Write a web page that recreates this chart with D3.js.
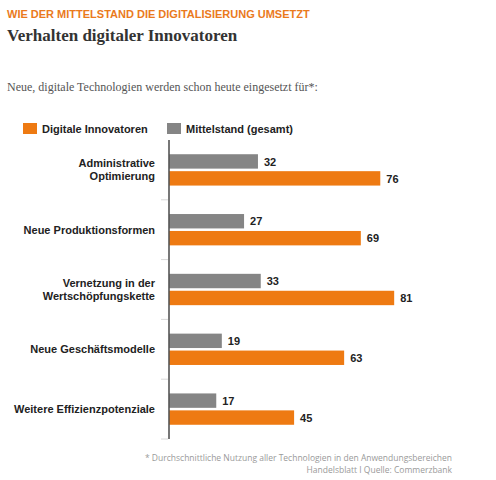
<!DOCTYPE html>
<html lang="de">
<head>
<meta charset="UTF-8">
<title>Verhalten digitaler Innovatoren</title>
<script src="https://cdn.jsdelivr.net/npm/d3@7"></script>
<style>
    html, body {
        margin: 0;
        padding: 0;
        background: #fff;
    }
    .kicker {
        font: bold 11px "Liberation Sans", Arial, sans-serif;
        fill: #ea7a1c;
    }
    .headline {
        font: bold 17px "Liberation Serif", Georgia, serif;
        fill: #333;
    }
    .intro {
        font: 12px "Liberation Serif", Georgia, serif;
        fill: #555;
    }
    .legend text, .cat text, .val {
        font: bold 11px "Liberation Sans", Arial, sans-serif;
        fill: #222;
    }
    .note {
        font: 8.5px "Open Sans", sans-serif;
        fill: #9a9a9a;
    }
</style>
</head>
<body>
<svg id="chart" width="496" height="480"></svg>
<script>
    // data
    var categories = [
        "Administrative Optimierung",
        "Neue Produktionsformen",
        "Vernetzung in der Wertschöpfungskette",
        "Neue Geschäftsmodelle",
        "Weitere Effizienzpotenziale"
    ];
    // line breaks as in the original
    var catLines = [
        ["Administrative", "Optimierung"],
        ["Neue Produktionsformen"],
        ["Vernetzung in der", "Wertschöpfungskette"],
        ["Neue Geschäftsmodelle"],
        ["Weitere Effizienzpotenziale"]
    ];
    var series = ["Mittelstand (gesamt)", "Digitale Innovatoren"];
    var mittelstand = [32, 27, 33, 19, 17];
    var innovatoren = [76, 69, 81, 63, 45];
    var legendOrder = ["Digitale Innovatoren", "Mittelstand (gesamt)"];
    var colors = {"Digitale Innovatoren": "#ee7a12", "Mittelstand (gesamt)": "#858585"};

    var svg = d3.select("#chart");

    // heading
    svg.append("text").attr("class", "kicker").attr("x", 7).attr("y", 18)
        .text("WIE DER MITTELSTAND DIE DIGITALISIERUNG UMSETZT");
    svg.append("text").attr("class", "headline").attr("x", 7).attr("y", 41)
        .text("Verhalten digitaler Innovatoren");
    svg.append("text").attr("class", "intro").attr("x", 7).attr("y", 91)
        .text("Neue, digitale Technologien werden schon heute eingesetzt für*:");

    // legend
    var lg = svg.append("g").attr("class", "legend");
    var legendX = [23, 167];
    legendOrder.forEach(function (s, i) {
        lg.append("rect").attr("x", legendX[i]).attr("y", 123)
            .attr("width", 14).attr("height", 11).attr("fill", colors[s]);
        lg.append("text").attr("x", legendX[i] + 19).attr("y", 133).text(s);
    });

    // scales
    var y = d3.scaleBand().domain(categories).range([140, 439]);
    var ySub = d3.scaleBand().domain(series).range([0, y.bandwidth()])
        .paddingInner(0.15).paddingOuter(0.84);
    var x = d3.scaleLinear().domain([0, 100]).range([169, 447]);

    var rows = categories.map(function (c, i) {
        return {cat: c, lines: catLines[i], vals: [
            {s: series[0], v: mittelstand[i]},
            {s: series[1], v: innovatoren[i]}
        ]};
    });

    // ticks between the groups
    var tickY = categories.map(function (c) { return y(c) + y.bandwidth(); });
    svg.append("g").selectAll("line").data(tickY).enter().append("line")
        .attr("x1", 161).attr("x2", 168)
        .attr("y1", function (d) { return d; }).attr("y2", function (d) { return d; })
        .attr("stroke", "#d8d8d8").attr("stroke-width", 1);

    var g = svg.append("g").selectAll(".row").data(rows).enter().append("g")
        .attr("class", "row")
        .attr("transform", function (d) { return "translate(0," + y(d.cat) + ")"; });

    g.selectAll("rect").data(function (d) { return d.vals; }).enter().append("rect")
        .attr("x", x(0))
        .attr("y", function (d) { return ySub(d.s); })
        .attr("width", function (d) { return x(d.v) - x(0); })
        .attr("height", ySub.bandwidth())
        .attr("fill", function (d) { return colors[d.s]; });

    g.selectAll(".val").data(function (d) { return d.vals; }).enter().append("text")
        .attr("class", "val")
        .attr("x", function (d) { return x(d.v) + 6; })
        .attr("y", function (d) { return ySub(d.s) + ySub.bandwidth() / 2; })
        .attr("dy", "0.38em")
        .text(function (d) { return d.v; });

    // category labels
    var cat = g.append("g").attr("class", "cat");
    cat.each(function (d) {
        var n = d.lines.length;
        var t = d3.select(this).append("text")
            .attr("text-anchor", "end")
            .attr("y", y.bandwidth() / 2);
        d.lines.forEach(function (l, i) {
            t.append("tspan").attr("x", 155)
                .attr("dy", i === 0 ? (0.35 - (n - 1) * 0.6) + "em" : "1.2em")
                .text(l);
        });
    });

    // axis line
    svg.append("line")
        .attr("x1", x(0)).attr("x2", x(0))
        .attr("y1", y.range()[0]).attr("y2", y.range()[1])
        .attr("stroke", "#555").attr("stroke-width", 1.6);

    // footnote
    svg.append("text").attr("class", "note").attr("x", 452).attr("y", 461)
        .attr("text-anchor", "end")
        .text("* Durchschnittliche Nutzung aller Technologien in den Anwendungsbereichen");
    svg.append("text").attr("class", "note").attr("x", 452).attr("y", 473)
        .attr("text-anchor", "end")
        .text("Handelsblatt I Quelle: Commerzbank");
</script>
</body>
</html>
